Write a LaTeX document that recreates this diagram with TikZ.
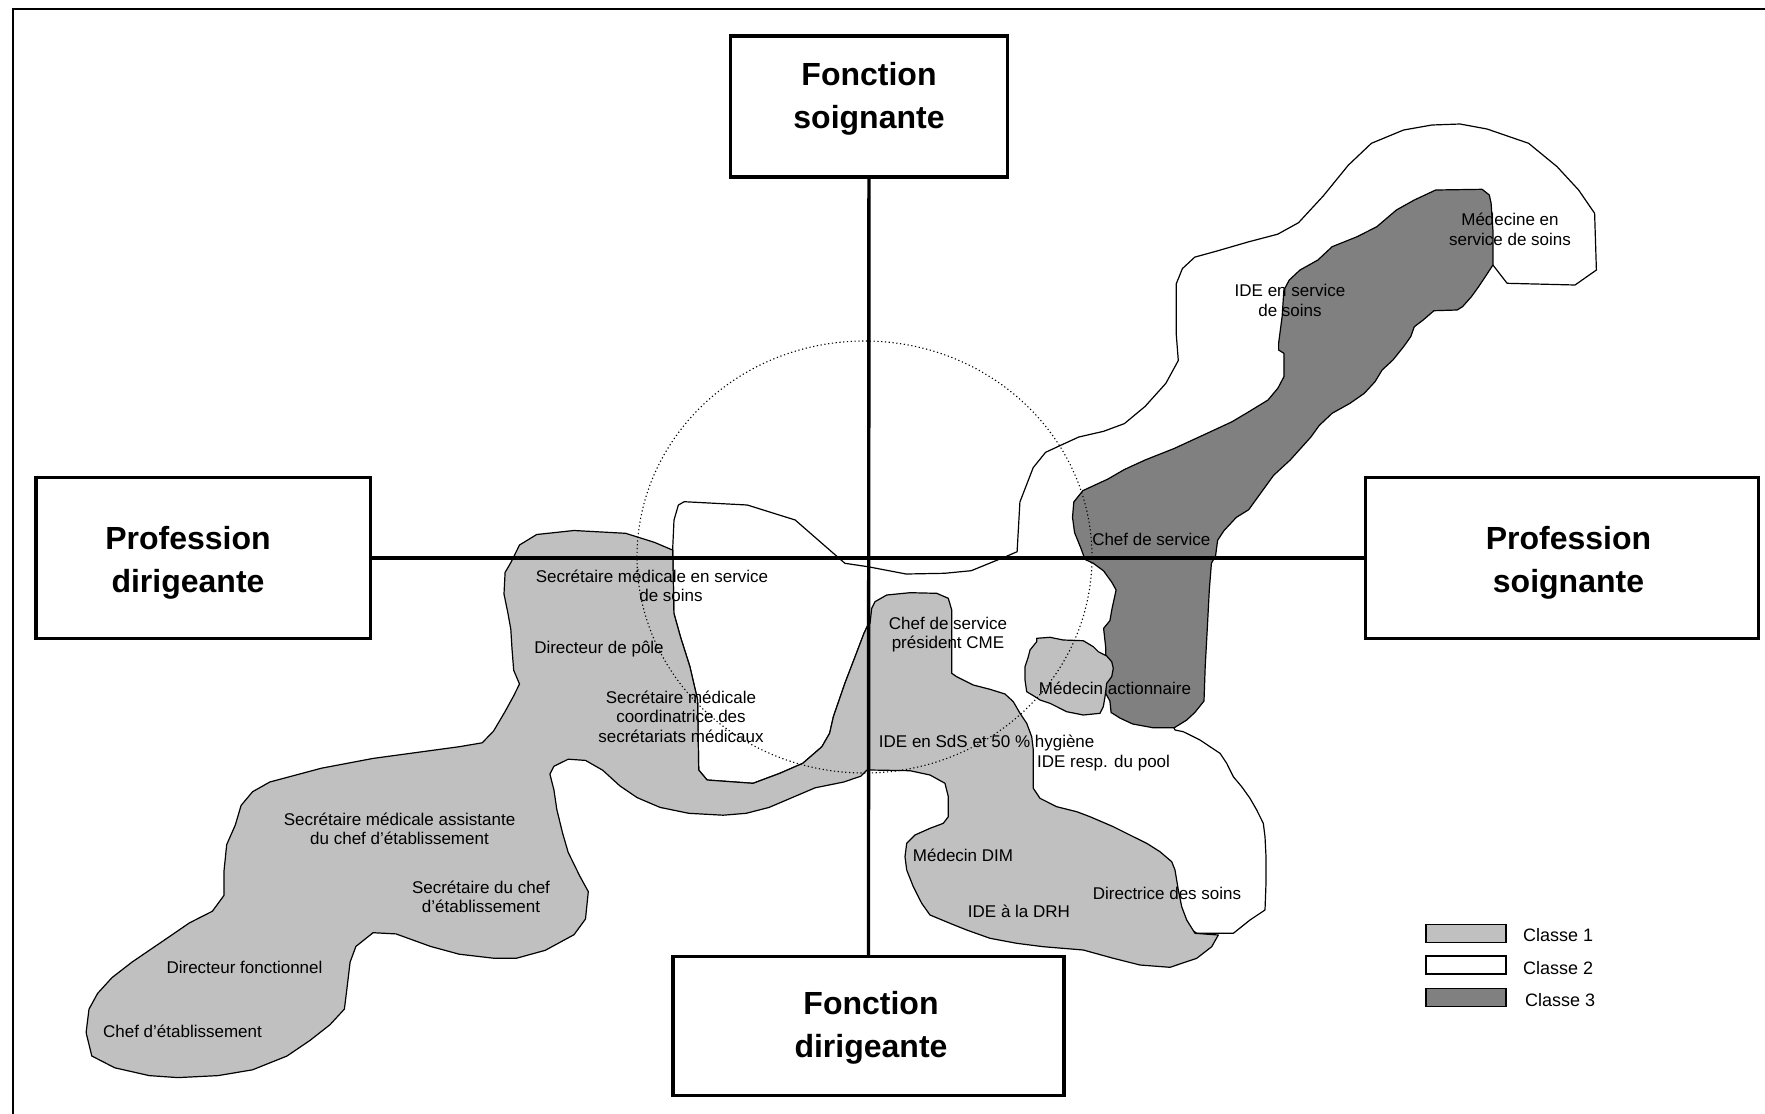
\documentclass[tikz,border=0pt]{standalone}
\usepackage{fontspec}
\setmainfont{Liberation Sans}
\definecolor{cOne}{HTML}{C0C0C0}
\definecolor{cThree}{HTML}{808080}
\begin{document}
\begin{tikzpicture}[x=1pt,y=-1pt,
  blob/.style={draw=black,line width=1.2pt,line join=round},
  lbl/.style={font=\fontsize{17}{19.5}\selectfont,align=center,inner sep=0pt},
  boxnode/.style={draw=black,line width=3.5pt,fill=white,inner sep=0pt},
  boxtxt/.style={font=\fontsize{32}{43}\selectfont\bfseries,align=center,inner sep=0pt},
  axis/.style={line width=3.4pt},
  legbox/.style={draw=black,line width=1.5pt,minimum width=80pt,minimum height=18pt,inner sep=0pt},
  legtxt/.style={font=\fontsize{18}{20}\selectfont,anchor=west,inner sep=0pt}]
\useasboundingbox (0,0) rectangle (1765,1114);
\fill[white] (0,0) rectangle (1765,1114);

% Classe 2 (white)
\filldraw[blob,fill=white]
 (698.7,770) -- (697.6,700) -- (689.9,666.7) -- (680.4,636.7) -- (673.9,613.3) -- (672.7,548.3) -- (674,520) -- (678.4,505) -- (684.2,501.7) -- (747.3,505) -- (795.2,520) -- (829.6,550) -- (844.9,563.3) -- (867.9,566.7) -- (906.1,574) -- (944.4,573.3) -- (971.2,570.7) -- (1005.6,556.7) -- (1017.1,551.7) -- (1019.9,502) -- (1033.2,467.6) -- (1045.6,452.3) -- (1062.2,444.6) -- (1078.8,437) -- (1103.6,431.3) -- (1124.4,423.6) -- (1145.1,406.4) -- (1165.8,383.4) -- (1178.3,360.5) -- (1176.2,333.7) -- (1176.2,283.9) -- (1182.4,268.6) -- (1194.8,257.1) -- (1215.6,251.4) -- (1248.7,241.8) -- (1277.7,234.2) -- (1298.5,222.7) -- (1323.3,195.9) -- (1348.2,165.3) -- (1371.4,143.3) -- (1403.6,130) -- (1432,125) -- (1460,124) -- (1487,129) -- (1528.6,143.3) -- (1557.1,166.7) -- (1578.6,190) -- (1594.6,213.3) -- (1596.4,270) -- (1575,285) -- (1507.1,283.3) -- (1492.9,265) -- (1460,285) -- (1400,330) -- (1300,400) -- (1160,600) -- (1160,700) -- (1175,730) -- (1183.3,731.7) -- (1200,740) -- (1210,746.7) -- (1220,753.3) -- (1226.7,763.3) -- (1233.3,776.7) -- (1241.7,786.7) -- (1250,798.3) -- (1256.7,810) -- (1263.3,823.3) -- (1265,836.7) -- (1266,856.7) -- (1266,883.3) -- (1265,910) -- (1250,920) -- (1233.3,933.3) -- (1196.7,933.3) -- (1150,900) -- (1000,850) -- (990,760) -- (900,700) -- (880,640) -- (867.9,625) -- (864,633.3) -- (856.4,653.3) -- (844.9,683.3) -- (833.4,716.7) -- (829.6,733.3) -- (821.9,746.7) -- (802.8,763.3) -- (779.8,773.3) -- (753.1,783.3) -- (707.1,780) -- cycle;

% Classe 1 (main grey)
\filldraw[blob,fill=cOne]
 (672.7,550.1) -- (654.3,542.3) -- (625.6,533.3) -- (574,530.5) -- (536.7,534.5) -- (519.5,545) -- (510.8,562.7) -- (505.1,572.4) -- (504,594) -- (508,613.6) -- (510.8,629.2) -- (512,648.8) -- (513.7,670.3) -- (519.5,684) -- (513.7,695.8) -- (505.1,711.5) -- (493.6,731) -- (482.2,742.8) -- (459.2,746.7) -- (373.1,758.4) -- (321.4,768.2) -- (269.8,782) -- (252.6,791.7) -- (241.1,805.4) -- (235.3,825) -- (226.7,844.6) -- (223.9,872) -- (223.9,895.5) -- (212.4,911.2) -- (189.4,922.9) -- (166.5,938.6) -- (132,962.1) -- (111.9,977.7) -- (97.6,993.4) -- (89,1009.1) -- (86.1,1032.6) -- (91.8,1056) -- (114.8,1067.8) -- (149.2,1075.6) -- (177.9,1077.6) -- (218.1,1075.6) -- (252.6,1069.8) -- (287,1056) -- (310,1040.4) -- (330,1024.7) -- (344.4,1009.1) -- (347.3,985.6) -- (350.1,962.1) -- (355.9,946.4) -- (373.1,932.7) -- (396,933.9) -- (430.5,946.4) -- (459.2,954.2) -- (493.6,958.2) -- (516.6,958.2) -- (545.3,950.3) -- (574,934.7) -- (585.5,919) -- (588.3,891.6) -- (579.7,875.9) -- (568.2,852.4) -- (562.5,832.8) -- (556.8,809.4) -- (553.9,789.8) -- (549.9,774.1) -- (553.9,766.3) -- (568.2,759.2) -- (585.5,760.4) -- (602.7,770.2) -- (619.9,785.9) -- (637.1,797.6) -- (660.1,807.4) -- (688.8,813.3) -- (723.2,815.2) -- (746.2,813.3) -- (769.1,807.4) -- (792.1,797.6) -- (815.1,787.8) -- (843.8,782) -- (861,776.1) -- (866.7,770.2) -- (870,770) -- (910,770.7) -- (930,775) -- (945,783.3) -- (948.3,796.7) -- (948.3,816.7) -- (943.3,823.3) -- (930,828.3) -- (915,835) -- (906.7,843.3) -- (905,856.7) -- (906.7,870) -- (913.3,886.7) -- (921.7,903.3) -- (930,915) -- (950,923.3) -- (966.7,930) -- (990,938.3) -- (1016.7,943.3) -- (1043.3,946.7) -- (1083.3,950) -- (1113.3,958.3) -- (1140,965) -- (1170,967.3) -- (1196.7,958.3) -- (1211.7,946.7) -- (1218.3,935) -- (1195,933.3) -- (1186.7,920) -- (1181.7,906.7) -- (1178.3,890) -- (1175,870) -- (1171.7,861.7) -- (1160,851.7) -- (1146.7,843.3) -- (1133.3,836.7) -- (1113.3,826.7) -- (1090,816.7) -- (1076.7,811.7) -- (1056.7,806.7) -- (1040,798.3) -- (1033.3,788.3) -- (1033.3,750) -- (1031.7,736.7) -- (1026.7,723.3) -- (1020,713.3) -- (1013.3,701.7) -- (1005,694) -- (990,689.3) -- (973.3,685) -- (956.7,676.7) -- (951.7,673.3) -- (951.7,646.7) -- (951.7,610) -- (948.3,598.3) -- (936.7,593.3) -- (910,592.7) -- (886.7,595) -- (875,601.7) -- (871.7,608.3) -- (870,623.3) -- (867.9,625) -- (864,633.3) -- (856.4,653.3) -- (844.9,683.3) -- (833.4,716.7) -- (829.6,733.3) -- (821.9,746.7) -- (802.8,763.3) -- (779.8,773.3) -- (753.1,783.3) -- (707.1,780) -- (698.7,770) -- (697.6,700) -- (689.9,666.7) -- (680.4,636.7) -- (673.9,613.3) -- cycle;

% Classe 3 (dark)
\filldraw[blob,fill=cThree]
 (1435.7,190) -- (1482.1,189.3) -- (1489.3,195) -- (1491.1,203.3) -- (1492.9,230) -- (1492.9,265) -- (1487.5,273.3) -- (1478.6,286.7) -- (1471.4,296.7) -- (1462.5,306.7) -- (1457.1,310) -- (1433.9,310.7) -- (1423.2,320) -- (1414.3,326.7) -- (1410.7,336.7) -- (1403.6,346.7) -- (1392.9,360) -- (1382.1,370) -- (1375,381.7) -- (1364.3,393.3) -- (1350,403.3) -- (1332.1,413.3) -- (1319.2,425.5) -- (1310.9,437) -- (1290.2,460) -- (1273.6,475.3) -- (1257,498.2) -- (1248.7,509.7) -- (1236.3,517.4) -- (1223.9,530.7) -- (1217.6,540.3) -- (1215.6,555.6) -- (1211.4,563.3) -- (1209.3,590) -- (1207.3,628.3) -- (1205.2,666.6) -- (1204,701) -- (1194.8,712.5) -- (1186.5,720.2) -- (1174.1,727.8) -- (1153.4,727.8) -- (1132.7,724) -- (1120.2,718.2) -- (1111.1,712.5) -- (1109.9,701) -- (1105.7,693.4) -- (1105.7,647.5) -- (1103.6,628.3) -- (1109.9,620.7) -- (1111.9,609.2) -- (1116.1,590) -- (1111.9,582.4) -- (1103.6,570.9) -- (1093.3,563.3) -- (1085,559.4) -- (1080.8,548) -- (1074.6,532.7) -- (1072.5,517.4) -- (1073.8,502) -- (1082.9,490.6) -- (1107.8,479.1) -- (1124.4,469.5) -- (1145.1,460) -- (1174.1,448.5) -- (1207.3,433.2) -- (1232.1,421.7) -- (1250,411) -- (1268,400) -- (1278,388) -- (1283.9,376.7) -- (1283.9,353.3) -- (1278.6,350) -- (1278.6,343.3) -- (1282.1,316.7) -- (1283.9,290) -- (1289.3,280) -- (1300,270) -- (1317.9,260) -- (1332.1,246.7) -- (1357.1,236.7) -- (1376.8,226.7) -- (1396.4,210) -- (1414.3,200) -- cycle;

% Classe 1 (small grey: Medecin actionnaire)
\filldraw[blob,fill=cOne]
 (1036.7,638.3) -- (1050,637.3) -- (1063.3,640) -- (1083.3,640.7) -- (1093.3,646.7) -- (1098.3,651.7) -- (1106.7,656) -- (1111.7,661.7) -- (1113.3,668.3) -- (1111.7,676.7) -- (1106.7,683.3) -- (1105,696.7) -- (1103.3,706.7) -- (1100,713.3) -- (1083.3,715) -- (1066.7,711.7) -- (1050,703.3) -- (1040,700) -- (1035,696.7) -- (1026.7,691.7) -- (1025,680) -- (1025,666.7) -- (1028.3,656.7) -- (1030,650) -- (1036.7,641.7) -- cycle;

% dotted circle
\draw[line width=1.1pt,dash pattern=on 1.2pt off 2.6pt] (864.5,557) ellipse [x radius=227.5pt, y radius=216pt];

% boxes
\node[boxnode,minimum width=277pt,minimum height=140.7pt] (FS) at (869,106.4) {};
\node[boxnode,minimum width=334.4pt,minimum height=161pt] (PD) at (203.2,557.8) {};
\node[boxnode,minimum width=393pt,minimum height=161pt] (PS) at (1562,557.8) {};
\node[boxnode,minimum width=390.8pt,minimum height=139pt] (FD) at (868.4,1026) {};

% axes
\draw[axis] (FS) -- (FD);
\draw[axis] (PD) -- (PS);

\node[boxtxt] (tFS) at (869,98.5) {Fonction\\soignante};
\node[boxtxt] (tPD) at (188,563) {Profession\\dirigeante};
\node[boxtxt] (tPS) at (1568.5,563) {Profession\\soignante};
\node[boxtxt] (tFD) at (871,1027.5) {Fonction\\dirigeante};

% labels
\node[lbl] (l1) at (652,586) {Secrétaire médicale en service\\\hspace*{38pt}de soins};
\node[lbl] (l2) at (599,649) {Directeur de pôle};
\node[lbl] (l3) at (681,716.5) {Secrétaire médicale\\coordinatrice des\\secrétariats médicaux};
\node[lbl] (l4) at (399.5,829) {Secrétaire médicale assistante\\du chef d'établissement};
\node[lbl] (l5) at (481,897) {Secrétaire du chef\\d'établissement};
\node[lbl] (l6) at (244.5,967) {Directeur fonctionnel};
\node[lbl] (l7) at (182.5,1031) {Chef d'établissement};
\node[lbl] (l8) at (948,634.5) {Chef de service\\président CME};
\node[lbl] (l9) at (1115,688) {Médecin actionnaire};
\node[lbl] (l10) at (986.7,743) {IDE en SdS et 50 \% hygiène};
\node[lbl] (l11) at (1103.5,762.7) {IDE resp. du pool};
\node[lbl] (l12) at (963,855) {Médecin DIM};
\node[lbl] (l13) at (1019,911) {IDE à la DRH};
\node[lbl] (l14) at (1167,893) {Directrice des soins};
\node[lbl] (l15) at (1510,229.5) {Médecine en\\service de soins};
\node[lbl] (l16) at (1290,300.5) {IDE en service\\de soins};
\node[lbl] (l17) at (1151.3,539.6) {Chef de service};

% legend
\node[legbox,fill=cOne] (L1) at (1465.9,933.4) {};
\node[legbox,fill=white] (L2) at (1465.9,965) {};
\node[legbox,fill=cThree] (L3) at (1465.9,997.5) {};
\node[legtxt] (T1) at (1523,935) {Classe 1};
\node[legtxt] (T2) at (1523,967.7) {Classe 2};
\node[legtxt] (T3) at (1525,1000) {Classe 3};

% frame
\draw[line width=2pt] (13,1114) -- (13,8.7) -- (1765,8.7);
\end{tikzpicture}
\end{document}
